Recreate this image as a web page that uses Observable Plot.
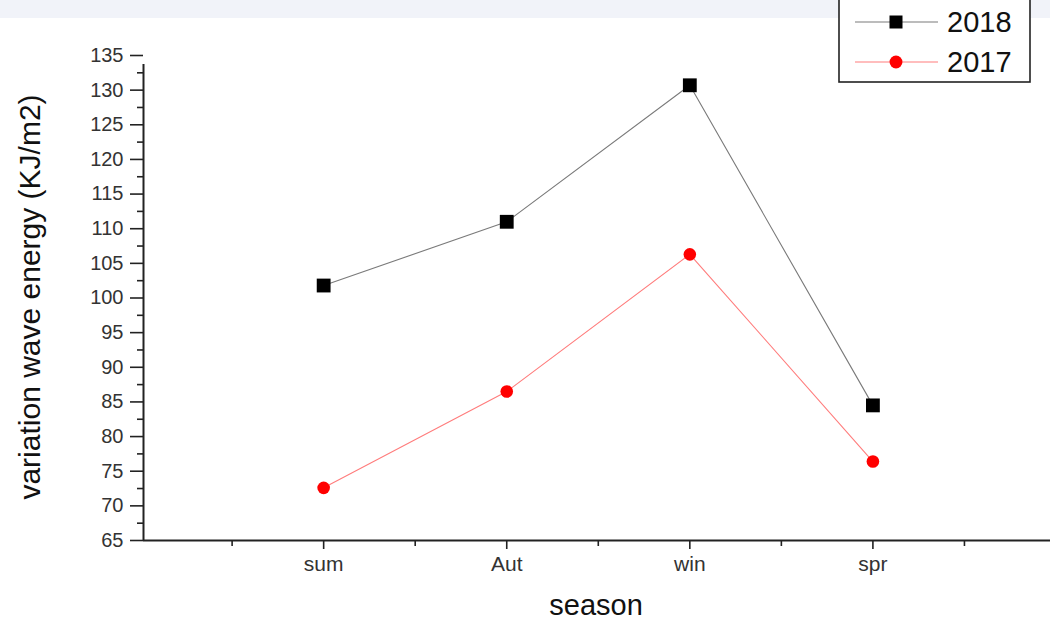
<!DOCTYPE html>
<html><head><meta charset="utf-8">
<script src="https://cdn.jsdelivr.net/npm/d3@7"></script>
<script src="https://cdn.jsdelivr.net/npm/@observablehq/plot@0.6"></script>
<style>
html,body{margin:0;padding:0;background:#fff;}
#wrap{position:relative;width:1050px;height:621px;overflow:hidden;}
#band{position:absolute;left:0;top:0;width:1050px;height:18px;background:#f1f3f9;}
</style></head>
<body><div id="wrap"><div id="band"></div></div>
<script>
const seasons = ["sum", "Aut", "win", "spr"];
const values2018 = [101.8, 111.0, 130.7, 84.5];
const values2017 = [72.6, 86.5, 106.3, 76.4];
const yTicks = [65, 70, 75, 80, 85, 90, 95, 100, 105, 110, 115, 120, 125, 130, 135];
const yMinor = [67.5, 72.5, 77.5, 82.5, 87.5, 92.5, 97.5, 102.5, 107.5, 112.5, 117.5, 122.5, 127.5, 132.5];
const xMinor = [0.5, 1.5, 2.5, 3.5, 4.5];
const series = [
  {name: "2018", values: values2018, color: "#7a7a7a", fill: "#000", symbol: "square", r: 7.8},
  {name: "2017", values: values2017, color: "#ff7c7c", fill: "#ff0000", symbol: "circle", r: 6.3}
];
const data = series.flatMap(s => s.values.map((v, i) => ({series: s.name, x: i + 1, season: seasons[i], y: v})));
const font = "'Liberation Sans', Arial, sans-serif";
const x0 = 0.016;
const chart = Plot.plot({
  width: 1050, height: 621,
  marginLeft: 143, marginRight: 0, marginTop: 55, marginBottom: 81,
  style: {fontFamily: font, background: "transparent"},
  x: {type: "linear", domain: [x0, 4.97]},
  y: {domain: [65, 135]},
  marks: [
    Plot.axisY({ticks: yTicks, tickSize: 13, tickPadding: 7, tickFormat: d => d, fontSize: 20, label: null, stroke: "#222", strokeWidth: 1.6, color: "#333"}),
    Plot.axisY({ticks: yMinor, tickSize: 6, tickFormat: () => "", label: null, stroke: "#222", strokeWidth: 1.6}),
    Plot.axisX({ticks: [1, 2, 3, 4], tickSize: 9, tickPadding: 7, tickFormat: d => seasons[d - 1], fontSize: 21, label: null, stroke: "#222", strokeWidth: 1.6, color: "#333"}),
    Plot.axisX({ticks: xMinor, tickSize: 6, tickFormat: () => "", label: null, stroke: "#222", strokeWidth: 1.6}),
    Plot.ruleX([x0], {y1: 65, y2: 135, stroke: "#222", strokeWidth: 2, insetBottom: -9}),
    Plot.ruleY([65], {stroke: "#222", strokeWidth: 2}),
    Plot.text(["variation wave energy (KJ/m2)"], {frameAnchor: "left", textAnchor: "middle", rotate: -90, dx: -113, dy: -1, fontSize: 30, fill: "#111"}),
    Plot.text(["season"], {frameAnchor: "bottom", textAnchor: "middle", dy: 74, dx: -1, fontSize: 29, fill: "#111"}),
    ...series.map(s => Plot.line(data.filter(d => d.series === s.name), {x: "x", y: "y", stroke: s.color, strokeWidth: 1.1})),
    ...series.map(s => Plot.dot(data.filter(d => d.series === s.name), {x: "x", y: "y", symbol: s.symbol, r: s.r, fill: s.fill, stroke: "none"}))
  ]
});
const svg = d3.select(chart);
const wrap = document.getElementById("wrap");
chart.style.position = "absolute"; chart.style.left = "0"; chart.style.top = "0";
wrap.appendChild(chart);
// Legend
const lg = svg.append("g").attr("font-family", font);
lg.append("rect").attr("x", 839).attr("y", -5).attr("width", 191).attr("height", 87).attr("fill", "#fff").attr("stroke", "#222").attr("stroke-width", 1.6);
series.forEach((s, i) => {
  const cy = 22 + i * 40;
  lg.append("line").attr("x1", 855).attr("x2", 938).attr("y1", cy).attr("y2", cy).attr("stroke", s.color).attr("stroke-width", 1.1);
  lg.append("path").attr("transform", `translate(896,${cy})`).attr("d", d3.symbol(s.symbol === "square" ? d3.symbolSquare : d3.symbolCircle, s.symbol === "square" ? 169 : 130)()).attr("fill", s.fill);
  lg.append("text").attr("x", 947).attr("y", cy).attr("dy", "0.36em").attr("text-anchor", "start").attr("font-size", 29).attr("fill", "#111").text(s.name);
});
</script></body></html>
